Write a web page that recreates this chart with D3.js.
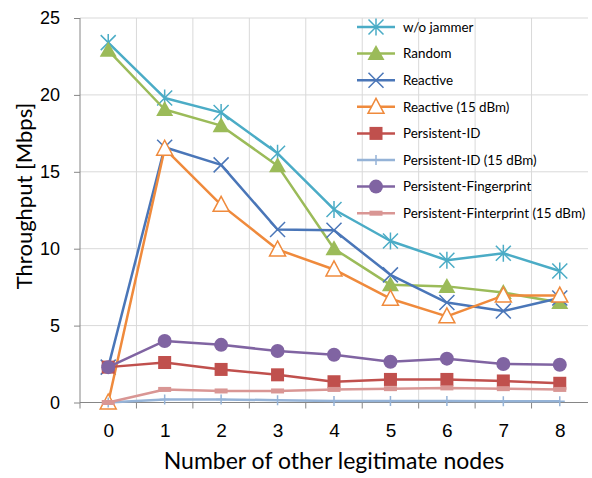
<!DOCTYPE html>
<html>
<head>
<meta charset="utf-8">
<script src="https://cdn.jsdelivr.net/npm/d3@7"></script>
<style>
  body { margin: 0; background: #fff; }
  svg { font-family: Lato, "Open Sans", sans-serif; }
</style>
</head>
<body>
<svg id="chart" width="592" height="478"></svg>
<script>
const categories = [0, 1, 2, 3, 4, 5, 6, 7, 8];
const yTicks = [0, 5, 10, 15, 20, 25];

const woJammer       = [23.4, 19.8, 18.85, 16.2, 12.55, 10.5, 9.25, 9.7, 8.55];
const random         = [22.9, 19.05, 18.0, 15.4, 10.0, 7.65, 7.55, 7.15, 6.5];
const reactive       = [2.3, 16.6, 15.45, 11.25, 11.2, 8.3, 6.5, 5.95, 6.8];
const reactive15     = [0, 16.5, 12.85, 9.95, 8.65, 6.75, 5.6, 6.95, 6.95];
const persistentId   = [2.3, 2.6, 2.15, 1.8, 1.35, 1.5, 1.5, 1.4, 1.25];
const persistentId15 = [0, 0.2, 0.2, 0.15, 0.1, 0.1, 0.1, 0.08, 0.08];
const fingerprint    = [2.3, 4.0, 3.75, 3.35, 3.1, 2.65, 2.85, 2.5, 2.45];
const fingerprint15  = [0, 0.85, 0.75, 0.75, 0.85, 0.9, 0.95, 0.9, 0.85];

const series = [
  {name: "w/o jammer", values: woJammer, color: "#4bacc6", marker: "asterisk"},
  {name: "Random", values: random, color: "#9bbb59", marker: "triangle"},
  {name: "Reactive", values: reactive, color: "#4a76b8", marker: "cross"},
  {name: "Reactive (15 dBm)", values: reactive15, color: "#ef8a3c", marker: "hollowTriangle"},
  {name: "Persistent-ID", values: persistentId, color: "#c0504d", marker: "square"},
  {name: "Persistent-ID (15 dBm)", values: persistentId15, color: "#95b3d7", marker: "plus"},
  {name: "Persistent-Fingerprint", values: fingerprint, color: "#8064a2", marker: "circle"},
  {name: "Persistent-Finterprint (15 dBm)", values: fingerprint15, color: "#d99694", marker: "dash"}
];

const plot = {left: 80, right: 588, top: 18, bottom: 402.5};
const svg = d3.select("#chart");

const x = d3.scalePoint().domain(categories).range([plot.left, plot.right]).padding(0.5);
const y = d3.scaleLinear().domain([0, 25]).range([plot.bottom, plot.top]);
const step = x.step();

// grid
const grid = svg.append("g");
grid.selectAll(".hg").data(yTicks.filter(d => d > 0)).join("line")
  .attr("x1", plot.left).attr("x2", plot.right)
  .attr("y1", d => y(d)).attr("y2", d => y(d))
  .attr("stroke", "#d9d9d9").attr("stroke-width", 1);
grid.selectAll(".vg").data(categories.slice(1)).join("line")
  .attr("x1", d => x(d) - step / 2).attr("x2", d => x(d) - step / 2)
  .attr("y1", plot.top).attr("y2", plot.bottom)
  .attr("stroke", "#d9d9d9").attr("stroke-width", 1);

// axes
const xAxis = d3.axisBottom(x).tickSize(0).tickFormat(d => d);
const gx = svg.append("g").attr("transform", `translate(0,${plot.bottom})`).call(xAxis);
gx.select(".domain").attr("stroke", "#868686").attr("d", `M${plot.left},0H${plot.right}`);
gx.selectAll("text").attr("font-size", 19).attr("fill", "#000").attr("dy", "1.65em");
gx.selectAll(".bt").data(categories).join("line")
  .attr("x1", d => x(d) - step / 2).attr("x2", d => x(d) - step / 2)
  .attr("y1", 0).attr("y2", 6).attr("stroke", "#868686");

const yAxis = d3.axisLeft(y).tickValues(yTicks).tickSize(6).tickPadding(14);
const gy = svg.append("g").attr("transform", `translate(${plot.left},0)`).call(yAxis);
gy.select(".domain").attr("stroke", "#868686").attr("d", `M0,${plot.top}V${plot.bottom}`);
gy.selectAll(".tick line").attr("stroke", "#868686");
gy.selectAll("text").attr("font-size", 18).attr("fill", "#000");

svg.append("text")
  .attr("x", (plot.left + plot.right) / 2).attr("y", 469)
  .attr("text-anchor", "middle").attr("font-size", 23)
  .text("Number of other legitimate nodes");
svg.append("text")
  .attr("transform", "translate(32,196) rotate(-90)")
  .attr("text-anchor", "middle").attr("font-size", 22)
  .text("Throughput [Mbps]");

function drawMarker(g, type, color) {
  if (type === "asterisk") {
    const r = 7.5;
    g.append("path").attr("d", `M${-r},${-r}L${r},${r}M${-r},${r}L${r},${-r}M0,${-r - 1}V${r + 1}`)
      .attr("stroke", color).attr("stroke-width", 1.5).attr("fill", "none");
  } else if (type === "triangle") {
    g.append("path").attr("d", "M0,-8.5L8.5,6.5H-8.5Z").attr("fill", color);
  } else if (type === "cross") {
    const r = 7.5;
    g.append("path").attr("d", `M${-r},${-r}L${r},${r}M${-r},${r}L${r},${-r}`)
      .attr("stroke", color).attr("stroke-width", 1.5).attr("fill", "none");
  } else if (type === "hollowTriangle") {
    g.append("path").attr("d", "M0,-8.5L8,6.5H-8Z").attr("fill", "#fff")
      .attr("stroke", color).attr("stroke-width", 1.5);
  } else if (type === "square") {
    g.append("rect").attr("x", -6.5).attr("y", -6.5).attr("width", 13).attr("height", 13).attr("fill", color);
  } else if (type === "plus") {
    g.append("path").attr("d", "M0,-5V5M-5,0H5")
      .attr("stroke", color).attr("stroke-width", 1.5);
  } else if (type === "circle") {
    g.append("circle").attr("r", 7).attr("fill", color);
  } else if (type === "dash") {
    g.append("rect").attr("x", -6.5).attr("y", -2.5).attr("width", 13).attr("height", 5).attr("fill", color);
  }
}

const line = d3.line().x((d, i) => x(categories[i])).y(d => y(d));

series.forEach(s => {
  const g = svg.append("g");
  g.append("path").datum(s.values).attr("d", line)
    .attr("fill", "none").attr("stroke", s.color).attr("stroke-width", 2.5)
    .attr("stroke-linejoin", "round");
  s.values.forEach((v, i) => {
    const m = g.append("g").attr("transform", `translate(${x(categories[i])},${y(v)})`);
    drawMarker(m, s.marker, s.color);
  });
});

// legend
const legend = svg.append("g").attr("transform", "translate(357,27)");
series.forEach((s, i) => {
  const row = legend.append("g").attr("transform", `translate(0,${i * 26.6})`);
  row.append("line").attr("x1", 0).attr("x2", 38).attr("y1", 0).attr("y2", 0)
    .attr("stroke", s.color).attr("stroke-width", 2.5);
  drawMarker(row.append("g").attr("transform", "translate(19,0)"), s.marker, s.color);
  row.append("text").attr("x", 46).attr("y", 0).attr("dy", "0.35em")
    .attr("font-size", 13.4).text(s.name);
});
</script>
</body>
</html>
